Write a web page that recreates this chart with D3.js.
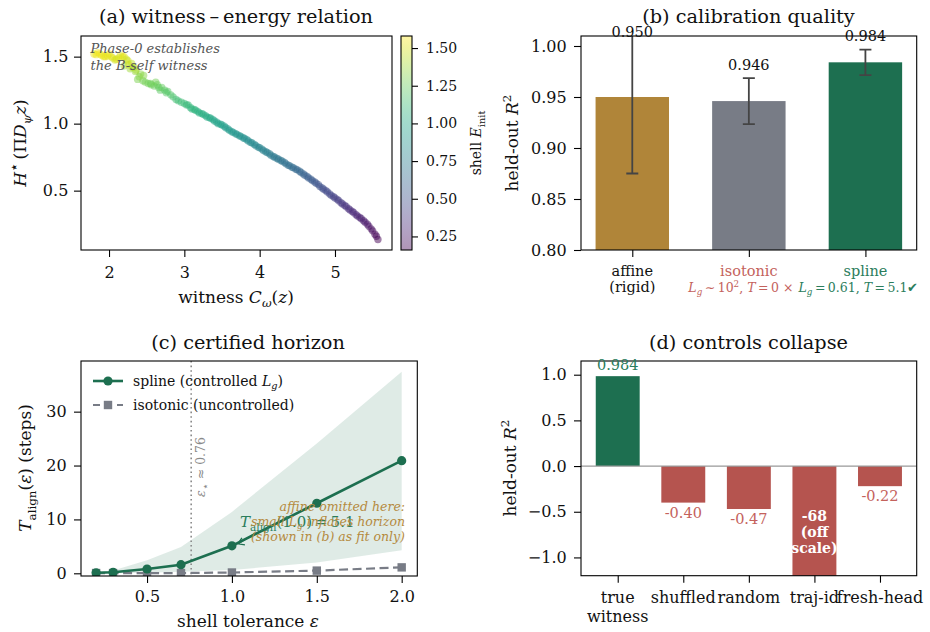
<!DOCTYPE html>
<html>
<head>
<meta charset="utf-8">
<script src="https://cdnjs.cloudflare.com/ajax/libs/d3/7.8.5/d3.min.js"></script>
<style>
body { margin: 0; background: #fff; }
</style>
</head>
<body>
<div class="figure"></div>
<script>
// ---------------- data ----------------
// (a) witness vs energy cloud
var witnessC = [1.80,1.85,1.90,1.95,2.00,2.05,2.10,2.15,2.20,2.25,2.30,2.20,2.28,2.35,2.42,2.38,2.45,2.52,2.60,2.68,
  2.62,2.70,2.78,2.85,2.92,3.00,3.05,3.10,3.15,3.20,3.25,3.30,3.35,3.40,3.45,3.50,3.55,3.60,3.65,3.70,
  3.75,3.80,3.85,3.90,3.95,4.00,4.05,4.10,4.15,4.20,4.25,4.30,4.35,4.40,4.45,4.50,4.55,4.60,4.65,4.70,
  4.75,4.80,4.85,4.90,4.95,5.00,5.05,5.10,5.15,5.20,5.25,5.30,5.35,5.40,5.45,5.50,5.55,5.57,
  1.83,1.88,1.93,1.98,2.03,2.08,2.13,2.18,2.23,2.33,2.40,2.48,2.56,2.64,2.74,2.82,2.89,2.96,
  3.03,3.08,3.13,3.18,3.23,3.28,3.33,3.38,3.43,3.48,3.53,3.58,3.63,3.68,3.73,3.78,3.83,3.88,3.93,3.98,
  4.03,4.08,4.13,4.18,4.23,4.28,4.33,4.38,4.43,4.48,4.53,4.58,4.63,4.68,4.73,4.78,4.83,4.88,4.93,4.98,
  5.03,5.08,5.13,5.18,5.23,5.28,5.33,5.38,5.43,5.48,5.53,
  2.26,2.31,2.36,2.46,2.55,2.66,2.76];
var witnessH = [1.52,1.53,1.51,1.50,1.52,1.49,1.48,1.51,1.50,1.47,1.45,1.43,1.41,1.39,1.37,1.33,1.32,1.30,1.28,1.25,
  1.31,1.27,1.24,1.20,1.17,1.15,1.14,1.11,1.10,1.08,1.07,1.05,1.04,1.02,1.00,0.99,0.97,0.95,0.935,0.92,
  0.905,0.89,0.87,0.855,0.835,0.82,0.80,0.785,0.765,0.75,0.735,0.72,0.70,0.685,0.67,0.655,0.635,0.615,0.595,0.575,
  0.555,0.53,0.51,0.49,0.465,0.445,0.425,0.40,0.38,0.355,0.335,0.31,0.29,0.265,0.235,0.20,0.16,0.135,
  1.515,1.52,1.50,1.505,1.50,1.475,1.49,1.50,1.48,1.42,1.35,1.31,1.29,1.29,1.25,1.215,1.18,1.16,
  1.14,1.12,1.105,1.09,1.075,1.06,1.045,1.03,1.01,0.995,0.98,0.96,0.94,0.925,0.91,0.895,0.88,0.86,0.845,0.825,
  0.81,0.79,0.775,0.755,0.74,0.725,0.71,0.69,0.675,0.66,0.645,0.625,0.605,0.585,0.565,0.545,0.52,0.50,0.475,0.455,
  0.435,0.41,0.39,0.365,0.345,0.32,0.30,0.275,0.25,0.215,0.175,
  1.44,1.42,1.40,1.36,1.30,1.27,1.23];
var shellE = [1.55,1.56,1.54,1.52,1.55,1.50,1.49,1.53,1.52,1.47,1.44,1.40,1.38,1.36,1.34,1.30,1.29,1.27,1.25,1.22,
  1.28,1.24,1.21,1.17,1.14,1.12,1.11,1.08,1.07,1.05,1.04,1.02,1.01,0.99,0.97,0.96,0.94,0.92,0.905,0.89,
  0.875,0.86,0.84,0.825,0.805,0.79,0.77,0.755,0.735,0.72,0.705,0.69,0.67,0.655,0.64,0.625,0.605,0.585,0.565,0.545,
  0.525,0.50,0.48,0.46,0.435,0.415,0.395,0.37,0.35,0.33,0.31,0.285,0.265,0.245,0.22,0.195,0.17,0.16,
  1.54,1.55,1.53,1.53,1.52,1.49,1.50,1.51,1.47,1.39,1.33,1.28,1.26,1.26,1.22,1.19,1.15,1.13,
  1.11,1.09,1.08,1.06,1.05,1.03,1.02,1.00,0.98,0.97,0.95,0.93,0.915,0.90,0.885,0.87,0.85,0.835,0.815,0.80,
  0.78,0.765,0.745,0.73,0.715,0.70,0.68,0.665,0.65,0.635,0.615,0.595,0.575,0.555,0.535,0.515,0.495,0.47,0.45,0.43,
  0.41,0.39,0.365,0.345,0.32,0.30,0.28,0.255,0.235,0.20,0.17,
  1.46,1.43,1.40,1.33,1.27,1.24,1.20];

// (b) calibration quality
var calibNames = ['affine', 'isotonic', 'spline'];
var calibR2 = [0.950, 0.946, 0.984];
var calibErr = [0.075, 0.0225, 0.0125];

// (c) certified horizon
var epsVals = [0.2, 0.3, 0.5, 0.7, 1.0, 1.5, 2.0];
var splineT = [0.1, 0.2, 0.8, 1.6, 5.1, 13.0, 20.9];
var isoT = [0.05, 0.05, 0.05, 0.05, 0.15, 0.5, 1.1];
var bandLo = [0.0, 0.0, 0.1, 0.3, 0.6, 2.0, 4.3];
var bandHi = [0.2, 0.5, 2.4, 4.9, 11.4, 24.1, 37.4];
var epsStar = 0.76;

// (d) controls collapse
var ctrlNames = [['true', 'witness'], ['shuffled'], ['random'], ['traj-id'], ['fresh-head']];
var ctrlR2 = [0.984, -0.40, -0.47, -68, -0.22];
var ctrlText = ['0.984', '-0.40', '-0.47', '-68', '-0.22'];

// tick values
var ticksAx = [2, 3, 4, 5], ticksAy = [0.5, 1.0, 1.5];
var ticksCbar = [0.25, 0.50, 0.75, 1.00, 1.25, 1.50];
var ticksBy = [0.80, 0.85, 0.90, 0.95, 1.00];
var ticksCx = [0.5, 1.0, 1.5, 2.0], ticksCy = [0, 10, 20, 30];
var ticksDy = [-1.0, -0.5, 0.0, 0.5, 1.0];

// colours
var gold = '#B08539', grey = '#787C86', green = '#1D6F50', red = '#B5544F';
var redText = '#C4625C', greenText = '#2B7D5C';

// ---------------- helpers ----------------
const svg = d3.select('.figure').append('svg')
  .attr('width', 930).attr('height', 632)
  .style('font-family', "'DejaVu Serif', serif");
const defs = svg.append('defs');

function addClip(id, b) {
  defs.append('clipPath').attr('id', id).append('rect')
    .attr('x', b.x0).attr('y', b.y0).attr('width', b.x1 - b.x0).attr('height', b.y1 - b.y0);
}

function frame(b) {
  svg.append('rect').attr('x', b.x0).attr('y', b.y0)
    .attr('width', b.x1 - b.x0).attr('height', b.y1 - b.y0)
    .attr('fill', 'none').attr('stroke', '#000').attr('stroke-width', 1.1);
}

function styleAxis(g, fs) {
  g.attr('font-family', null).attr('font-size', null);
  g.select('.domain').remove();
  g.selectAll('.tick line').attr('stroke', '#000').attr('stroke-width', 1.1);
  g.selectAll('.tick text').attr('fill', '#111').style('font-size', fs + 'px');
}

// segs: [text, flags]  i = italic, _ = subscript, ^ = superscript
function addMath(sel, segs, fs) {
  var shift = 0;
  segs.forEach(function(s) {
    var f = s[1] || '';
    var want = f.indexOf('_') >= 0 ? 0.28 * fs : (f.indexOf('^') >= 0 ? -0.4 * fs : 0);
    var t = sel.append('tspan').text(s[0]);
    if (want - shift !== 0) t.attr('dy', want - shift);
    shift = want;
    if (f.indexOf('i') >= 0) t.style('font-style', 'italic');
    if (want !== 0) t.style('font-size', (fs * (f.indexOf('s') >= 0 ? 0.9 : 0.7)) + 'px');
  });
  return sel;
}

function title(x, y, str) {
  svg.append('text').attr('x', x).attr('y', y).attr('text-anchor', 'middle')
    .style('font-size', '19.3px').attr('fill', '#111').text(str);
}

// ---------------- (a) witness-energy relation ----------------
var boxA = {x0: 81, x1: 392, y0: 36, y1: 250};
var xA = d3.scaleLinear().domain([1.628, 5.757]).range([boxA.x0, boxA.x1]);
var yA = d3.scaleLinear().domain([0.057, 1.654]).range([boxA.y1, boxA.y0]);
var colorE = d3.scaleSequential(d3.interpolateViridis).domain([0.16, 1.58]);
addClip('clipA', boxA);

svg.append('g').attr('clip-path', 'url(#clipA)')
  .selectAll('circle')
  .data(witnessC.map((c, i) => ({c: c, h: witnessH[i], e: shellE[i]})))
  .enter().append('circle')
  .attr('cx', d => xA(d.c))
  .attr('cy', d => yA(d.h))
  .attr('r', 3.7)
  .attr('fill', d => colorE(d.e))
  .attr('fill-opacity', 0.5);

svg.append('g').attr('transform', `translate(0,${boxA.y1})`)
  .call(d3.axisBottom(xA).tickValues(ticksAx).tickFormat(d3.format('d')).tickSize(7).tickPadding(9.5))
  .call(styleAxis, 16);
svg.append('g').attr('transform', `translate(${boxA.x0},0)`)
  .call(d3.axisLeft(yA).tickValues(ticksAy).tickFormat(d3.format('.1f')).tickSize(7).tickPadding(5.7))
  .call(styleAxis, 16);
frame(boxA);

svg.append('text').attr('x', 90.5).attr('y', 53).style('font-size', '13px')
  .style('font-style', 'italic').attr('fill', '#555').text('Phase-0 establishes');
svg.append('text').attr('x', 90.5).attr('y', 70).style('font-size', '13px')
  .style('font-style', 'italic').attr('fill', '#555').text('the B-self witness');

title(236, 22.5, '(a) witness\u2009\u2013\u2009energy relation');
addMath(svg.append('text').attr('x', 236).attr('y', 302.5).attr('text-anchor', 'middle')
  .style('font-size', '17px').attr('fill', '#111'),
  [['witness '], ['C', 'i'], ['\u03c9', 'i_'], ['(', ''], ['z', 'i'], [')']], 17);
addMath(svg.append('text').attr('transform', 'translate(26,143) rotate(-90)')
  .attr('text-anchor', 'middle').style('font-size', '17px').attr('fill', '#111'),
  [['H', 'i'], ['\u22c6', '^s'], ['\u2009(\u03a0'], ['D', 'i'], ['\u03c8', 'i_'], ['z', 'i'], [')']], 17);

// colorbar
var cbar = {x0: 401, x1: 412, y0: 36, y1: 250};
var yCbar = d3.scaleLinear().domain([0.16, 1.58]).range([cbar.y1, cbar.y0]);
var grad = defs.append('linearGradient').attr('id', 'viridisGrad')
  .attr('x1', 0).attr('y1', 1).attr('x2', 0).attr('y2', 0);
d3.range(0, 1.001, 0.05).forEach(t => {
  grad.append('stop').attr('offset', t).attr('stop-color', d3.interpolateViridis(t));
});
svg.append('rect').attr('x', cbar.x0).attr('y', cbar.y0)
  .attr('width', cbar.x1 - cbar.x0).attr('height', cbar.y1 - cbar.y0)
  .attr('fill', 'url(#viridisGrad)').attr('fill-opacity', 0.42);
svg.append('g').attr('transform', `translate(${cbar.x1},0)`)
  .call(d3.axisRight(yCbar).tickValues(ticksCbar).tickFormat(d3.format('.2f')).tickSize(6).tickPadding(8))
  .call(styleAxis, 14);
frame(cbar);
addMath(svg.append('text').attr('transform', 'translate(481,143) rotate(-90)')
  .attr('text-anchor', 'middle').style('font-size', '14px').attr('fill', '#111'),
  [['shell '], ['E', 'i'], ['init', '_']], 14);

// ---------------- (b) calibration quality ----------------
var boxB = {x0: 581, x1: 916.7, y0: 36, y1: 250};
var xB = d3.scaleLinear().domain([-0.44, 2.44]).range([boxB.x0, boxB.x1]);
var yB = d3.scaleLinear().domain([0.8, 1.0098]).range([boxB.y1, boxB.y0]);
var barW = xB(0.63) - xB(0);
var calibColors = [gold, grey, green];
addClip('clipB', boxB);

var gB = svg.append('g').attr('clip-path', 'url(#clipB)');
gB.selectAll('.calBar').data(calibR2).enter().append('rect')
  .attr('class', 'calBar')
  .attr('x', (d, i) => xB(i) - barW / 2)
  .attr('y', d => yB(d))
  .attr('width', barW)
  .attr('height', d => yB(0.8) - yB(d))
  .attr('fill', (d, i) => calibColors[i]);

// error bars
calibR2.forEach((v, i) => {
  var lo = yB(v - calibErr[i]), hi = yB(v + calibErr[i]);
  gB.append('line').attr('x1', xB(i)).attr('x2', xB(i)).attr('y1', lo).attr('y2', hi)
    .attr('stroke', '#444').attr('stroke-width', 1.8);
  [lo, hi].forEach(yy => {
    gB.append('line').attr('x1', xB(i) - 6).attr('x2', xB(i) + 6).attr('y1', yy).attr('y2', yy)
      .attr('stroke', '#444').attr('stroke-width', 1.8);
  });
});

svg.append('g').attr('transform', `translate(0,${boxB.y1})`)
  .call(d3.axisBottom(xB).tickValues([0, 1, 2]).tickFormat('').tickSize(7))
  .call(styleAxis, 14);
svg.append('g').attr('transform', `translate(${boxB.x0},0)`)
  .call(d3.axisLeft(yB).tickValues(ticksBy).tickFormat(d3.format('.2f')).tickSize(7).tickPadding(7.3))
  .call(styleAxis, 16);
frame(boxB);

// value labels above the error bars (kept inside the figure top)
calibR2.forEach((v, i) => {
  var top = Math.min(v + calibErr[i] + 0.005, 1.0055);
  svg.append('text').attr('x', xB(i)).attr('y', yB(top) - 3.5)
    .attr('text-anchor', 'middle').style('font-size', '14.5px').attr('fill', '#111')
    .text(d3.format('.3f')(v));
});

// category labels
svg.append('text').attr('x', xB(0)).attr('y', 276).attr('text-anchor', 'middle')
  .style('font-size', '14.5px').attr('fill', '#111').text('affine');
svg.append('text').attr('x', xB(0)).attr('y', 291.5).attr('text-anchor', 'middle')
  .style('font-size', '14.5px').attr('fill', '#111').text('(rigid)');
svg.append('text').attr('x', xB(1)).attr('y', 276).attr('text-anchor', 'middle')
  .style('font-size', '14.5px').attr('fill', redText).text('isotonic');
addMath(svg.append('text').attr('x', xB(1) - 8).attr('y', 291.5).attr('text-anchor', 'middle')
  .style('font-size', '12.5px').attr('fill', redText),
  [['L', 'i'], ['g', 'i_'], ['\u2009\u223c\u200910'], ['2', '^'], [', '], ['T', 'i'], ['\u2009=\u20090 \u00d7']], 12.5);
svg.append('text').attr('x', xB(2)).attr('y', 276).attr('text-anchor', 'middle')
  .style('font-size', '14.5px').attr('fill', greenText).text('spline');
addMath(svg.append('text').attr('x', xB(2) - 7).attr('y', 291.5).attr('text-anchor', 'middle')
  .style('font-size', '12.5px').attr('fill', greenText),
  [['L', 'i'], ['g', 'i_'], ['\u2009=\u20090.61, '], ['T', 'i'], ['\u2009=\u20095.1\u2714']], 12.5);

title(748.5, 22.5, '(b) calibration quality');
addMath(svg.append('text').attr('transform', 'translate(518,143) rotate(-90)')
  .attr('text-anchor', 'middle').style('font-size', '17px').attr('fill', '#111'),
  [['held-out '], ['R', 'i'], ['2', '^']], 17);

// ---------------- (c) certified horizon ----------------
var boxC = {x0: 81, x1: 417.3, y0: 361, y1: 576};
var xC = d3.scaleLinear().domain([0.111, 2.092]).range([boxC.x0, boxC.x1]);
var yC = d3.scaleLinear().domain([-0.5, 39.4]).range([boxC.y1, boxC.y0]);
addClip('clipC', boxC);
var gC = svg.append('g').attr('clip-path', 'url(#clipC)');

var band = d3.area().x((d, i) => xC(epsVals[i])).y0((d, i) => yC(bandLo[i])).y1((d, i) => yC(bandHi[i]));
gC.append('path').datum(epsVals).attr('d', band).attr('fill', green).attr('fill-opacity', 0.14);

gC.append('line').attr('x1', xC(epsStar)).attr('x2', xC(epsStar)).attr('y1', boxC.y0).attr('y2', boxC.y1)
  .attr('stroke', '#8a8a8a').attr('stroke-width', 1.6).attr('stroke-dasharray', '1.6,3');

var lineT = d3.line().x((d, i) => xC(epsVals[i])).y(d => yC(d));
gC.append('path').datum(isoT).attr('d', lineT).attr('fill', 'none')
  .attr('stroke', grey).attr('stroke-width', 2.2).attr('stroke-dasharray', '9,4.5');
gC.selectAll('.isoPt').data(isoT).enter().append('rect').attr('class', 'isoPt')
  .attr('x', (d, i) => xC(epsVals[i]) - 4.2).attr('y', d => yC(d) - 4.2)
  .attr('width', 8.4).attr('height', 8.4).attr('fill', grey);

gC.append('path').datum(splineT).attr('d', lineT).attr('fill', 'none')
  .attr('stroke', green).attr('stroke-width', 2.6);
gC.selectAll('.splPt').data(splineT).enter().append('circle').attr('class', 'splPt')
  .attr('cx', (d, i) => xC(epsVals[i])).attr('cy', d => yC(d)).attr('r', 4.6).attr('fill', green);

svg.append('g').attr('transform', `translate(0,${boxC.y1})`)
  .call(d3.axisBottom(xC).tickValues(ticksCx).tickFormat(d3.format('.1f')).tickSize(7).tickPadding(8))
  .call(styleAxis, 16);
svg.append('g').attr('transform', `translate(${boxC.x0},0)`)
  .call(d3.axisLeft(yC).tickValues(ticksCy).tickFormat(d3.format('d')).tickSize(7).tickPadding(7.3))
  .call(styleAxis, 16);
frame(boxC);

// eps star label
addMath(svg.append('text').attr('transform', `translate(${xC(epsStar) + 14},467) rotate(-90)`)
  .attr('text-anchor', 'middle').style('font-size', '12.5px').attr('fill', '#8a8a8a'),
  [['\u03b5', 'i'], ['\u22c6', '_s'], [' \u2248 0.76']], 12.5);

// legend
svg.append('line').attr('x1', 93).attr('x2', 123).attr('y1', 381).attr('y2', 381)
  .attr('stroke', green).attr('stroke-width', 2.6);
svg.append('circle').attr('cx', 108).attr('cy', 381).attr('r', 4.6).attr('fill', green);
svg.append('line').attr('x1', 93).attr('x2', 123).attr('y1', 405).attr('y2', 405)
  .attr('stroke', grey).attr('stroke-width', 2.2).attr('stroke-dasharray', '7,5');
svg.append('rect').attr('x', 103.8).attr('y', 400.8).attr('width', 8.4).attr('height', 8.4).attr('fill', grey);
addMath(svg.append('text').attr('x', 133).attr('y', 385.5).style('font-size', '14px').attr('fill', '#111'),
  [['spline (controlled '], ['L', 'i'], ['g', 'i_'], [')']], 14);
svg.append('text').attr('x', 133).attr('y', 409.5).style('font-size', '14px').attr('fill', '#111')
  .text('isotonic (uncontrolled)');

// annotations
var spl1 = {x: xC(1.0), y: yC(5.1)};
svg.append('path')
  .attr('d', `M${spl1.x + 24},${spl1.y - 13} L${spl1.x + 6},${spl1.y - 2}` +
             ` M${spl1.x + 13},${spl1.y - 1} L${spl1.x + 6},${spl1.y - 2} L${spl1.x + 10},${spl1.y - 8}`)
  .attr('fill', 'none').attr('stroke', green).attr('stroke-width', 1.3);
addMath(svg.append('text').attr('x', 240).attr('y', 527).style('font-size', '15px').attr('fill', greenText),
  [['T', 'i'], ['align', '_'], ['(1.0)\u2009=\u20095.1']], 15);

var goldText = '#B58A3E';
svg.append('text').attr('x', 405).attr('y', 511).attr('text-anchor', 'end').style('font-size', '12.5px')
  .style('font-style', 'italic').attr('fill', goldText).text('affine omitted here:');
addMath(svg.append('text').attr('x', 405).attr('y', 525.5).attr('text-anchor', 'end').style('font-size', '12.5px')
  .style('font-style', 'italic').attr('fill', goldText),
  [['small ', 'i'], ['L', 'i'], ['g', 'i_'], [' inflates horizon', 'i']], 12.5);
svg.append('text').attr('x', 405).attr('y', 541).attr('text-anchor', 'end').style('font-size', '12.5px')
  .style('font-style', 'italic').attr('fill', goldText).text('(shown in (b) as fit only)');

title(248, 349, '(c) certified horizon');
addMath(svg.append('text').attr('x', 248).attr('y', 627).attr('text-anchor', 'middle')
  .style('font-size', '17px').attr('fill', '#111'),
  [['shell tolerance '], ['\u03b5', 'i']], 17);
addMath(svg.append('text').attr('transform', 'translate(31,468) rotate(-90)')
  .attr('text-anchor', 'middle').style('font-size', '17px').attr('fill', '#111'),
  [['T', 'i'], ['align', '_'], ['('], ['\u03b5', 'i'], [') (steps)']], 17);

// ---------------- (d) controls collapse ----------------
var boxD = {x0: 581, x1: 916.7, y0: 361, y1: 575.7};
var xD = d3.scaleLinear().domain([-0.56, 4.56]).range([boxD.x0, boxD.x1]);
var yD = d3.scaleLinear().domain([-1.2, 1.15]).range([boxD.y1, boxD.y0]);
var barWD = xD(0.67) - xD(0);
addClip('clipD', boxD);
var gD = svg.append('g').attr('clip-path', 'url(#clipD)');

gD.selectAll('.ctrlBar').data(ctrlR2).enter().append('rect').attr('class', 'ctrlBar')
  .attr('x', (d, i) => xD(i) - barWD / 2)
  .attr('y', d => yD(Math.max(d, 0)))
  .attr('width', barWD)
  .attr('height', d => Math.abs(yD(d) - yD(0)))
  .attr('fill', (d, i) => i === 0 ? green : red);

gD.append('line').attr('x1', boxD.x0).attr('x2', boxD.x1).attr('y1', yD(0)).attr('y2', yD(0))
  .attr('stroke', '#999').attr('stroke-width', 1.3);

svg.append('g').attr('transform', `translate(0,${boxD.y1})`)
  .call(d3.axisBottom(xD).tickValues(d3.range(ctrlR2.length)).tickFormat('').tickSize(7))
  .call(styleAxis, 16);
svg.append('g').attr('transform', `translate(${boxD.x0},0)`)
  .call(d3.axisLeft(yD).tickValues(ticksDy).tickFormat(d3.format('.1f')).tickSize(7).tickPadding(7.3))
  .call(styleAxis, 16);
frame(boxD);

// value labels
ctrlR2.forEach((v, i) => {
  if (v > 0) {
    svg.append('text').attr('x', xD(i)).attr('y', yD(v + 0.03) - 3.5).attr('text-anchor', 'middle')
      .style('font-size', '14.5px').attr('fill', greenText).text(ctrlText[i]);
  } else if (v < -1.2) {
    // off-scale bar: label inside in white
    var t = svg.append('text').attr('text-anchor', 'middle').style('font-size', '14px')
      .style('font-weight', 'bold').attr('fill', '#fff');
    [ctrlText[i], '(off', 'scale)'].forEach((s, k) => {
      t.append('tspan').attr('x', xD(i)).attr('y', yD(-0.72) + 5 + (k - 1) * 16).text(s);
    });
  } else {
    svg.append('text').attr('x', xD(i)).attr('y', yD(v - 0.05) + 10.5).attr('text-anchor', 'middle')
      .style('font-size', '14.5px').attr('fill', redText).text(ctrlText[i]);
  }
});

// category labels
ctrlNames.forEach((lines, i) => {
  lines.forEach((s, k) => {
    svg.append('text').attr('x', xD(i)).attr('y', 602.5 + k * 19).attr('text-anchor', 'middle')
      .style('font-size', '16px').attr('fill', '#111').text(s);
  });
});

title(748.5, 349, '(d) controls collapse');
addMath(svg.append('text').attr('transform', 'translate(516,468) rotate(-90)')
  .attr('text-anchor', 'middle').style('font-size', '17px').attr('fill', '#111'),
  [['held-out '], ['R', 'i'], ['2', '^']], 17);
</script>
</body>
</html>
